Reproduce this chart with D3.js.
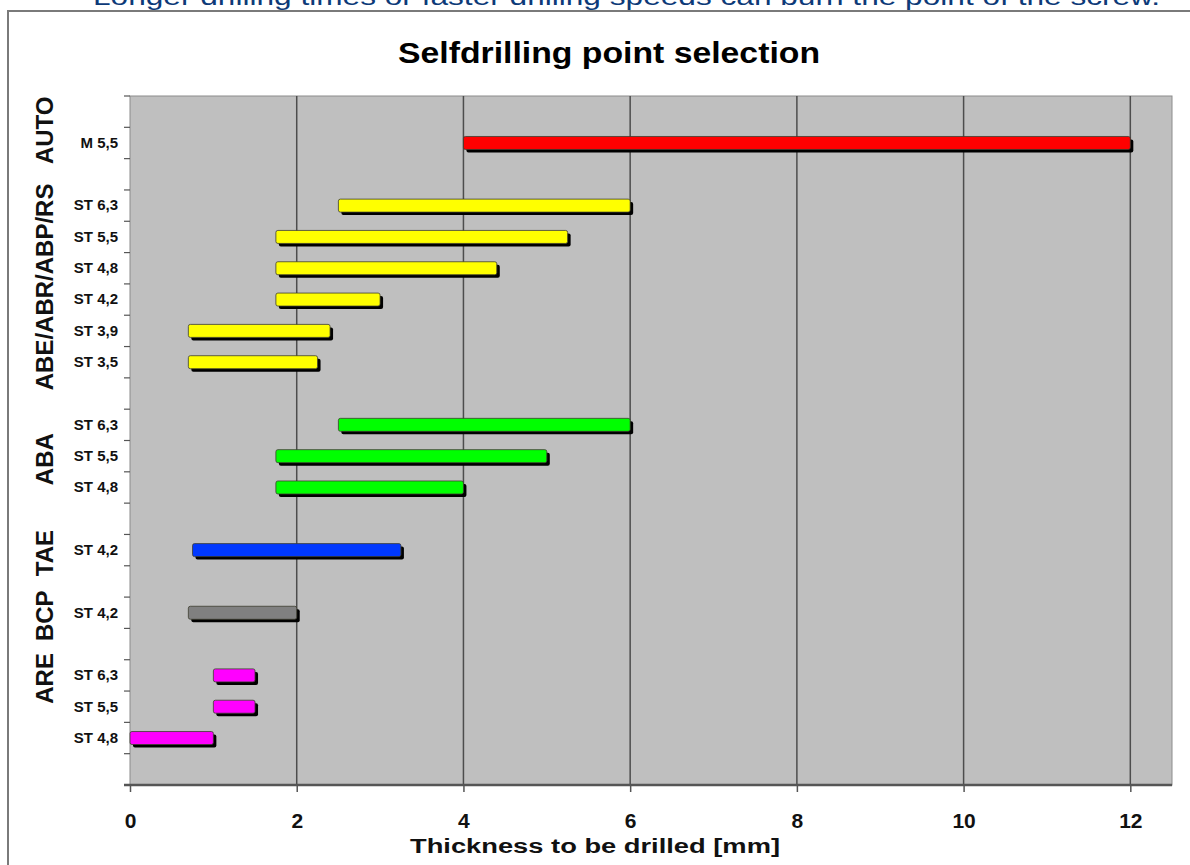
<!DOCTYPE html>
<html lang="en">
<head>
<meta charset="utf-8">
<title>Selfdrilling point selection</title>
<style>
  body { margin: 0; background: #fff; }
  svg { display: block; font-family: "Liberation Sans", Arial, sans-serif; }
</style>
</head>
<body>
<script src="https://cdn.jsdelivr.net/npm/d3@7"></script>
<script>
// one row per slot of the y axis, empty strings are the gaps between groups
var rowLabels = ["", "M 5,5", "", "ST 6,3", "ST 5,5", "ST 4,8", "ST 4,2", "ST 3,9", "ST 3,5", "",
                 "ST 6,3", "ST 5,5", "ST 4,8", "", "ST 4,2", "", "ST 4,2", "", "ST 6,3", "ST 5,5", "ST 4,8", ""];
var rowGroup  = ["AUTO", "AUTO", "", "ABE", "ABE", "ABE", "ABE", "ABE", "ABE", "",
                 "ABA", "ABA", "ABA", "", "TAE", "", "BCP", "", "ARE", "ARE", "ARE", ""];
// drilling thickness range [mm]
var rangeFrom = [null, 4, null, 2.5, 1.75, 1.75, 1.75, 0.7, 0.7, null,
                 2.5, 1.75, 1.75, null, 0.75, null, 0.7, null, 1.0, 1.0, 0, null];
var rangeTo   = [null, 12, null, 6, 5.25, 4.4, 3, 2.4, 2.25, null,
                 6, 5, 4, null, 3.25, null, 2, null, 1.5, 1.5, 1, null];

var groupKeys   = ["AUTO", "ABE", "ABA", "TAE", "BCP", "ARE"];
var groupTitles = ["AUTO", "ABE/ABR/ABP/RS", "ABA", "TAE", "BCP", "ARE"];
var groupRows   = [[0, 1], [3, 8], [10, 12], [14, 14], [16, 16], [17, 19]];

var xTicks = [0, 2, 4, 6, 8, 10, 12];

var chartTitle = "Selfdrilling point selection";
var xTitle = "Thickness to be drilled [mm]";
var note = "Longer drilling times or faster drilling speeds can burn the point of the screw.";

var W = 1190, H = 865;
var plot = {left: 130, right: 1172, top: 96, bottom: 785};

var color = d3.scaleOrdinal()
    .domain(groupKeys)
    .range(["#ff0000", "#ffff00", "#00ff00", "#0038ff", "#808080", "#ff00ff"]);

var x = d3.scaleLinear().domain([0, 12.5]).range([plot.left, plot.right]);
var y = d3.scaleBand().domain(d3.range(rowLabels.length)).range([plot.top, plot.bottom]);

var svg = d3.select("body").append("svg")
    .attr("width", W)
    .attr("height", H);

// text above the frame, cut at the top of the picture
svg.append("text")
    .attr("x", 93).attr("y", 5)
    .attr("font-family", "'Liberation Sans', Arial, sans-serif")
    .attr("font-size", 24)
    .attr("fill", "#0d3a78")
    .attr("textLength", 1067)
    .attr("lengthAdjust", "spacingAndGlyphs")
    .text(note);

svg.append("rect")
    .attr("x", 8).attr("y", 11)
    .attr("width", 1220).attr("height", 900)
    .attr("fill", "#fff")
    .attr("stroke", "#7a7a7a")
    .attr("stroke-width", 2);

svg.append("text")
    .attr("x", 609).attr("y", 63)
    .attr("text-anchor", "middle")
    .attr("font-size", 30)
    .attr("font-weight", "bold")
    .attr("textLength", 422)
    .attr("lengthAdjust", "spacingAndGlyphs")
    .text(chartTitle);

// plot area
svg.append("rect")
    .attr("x", plot.left).attr("y", plot.top)
    .attr("width", plot.right - plot.left).attr("height", plot.bottom - plot.top)
    .attr("fill", "#bfbfbf")
    .attr("stroke", "#8c8c8c")
    .attr("stroke-width", 1);

svg.append("g").selectAll("line")
    .data(xTicks.filter(function(d){ return d > 0; }))
    .enter().append("line")
    .attr("x1", function(d){ return x(d); })
    .attr("x2", function(d){ return x(d); })
    .attr("y1", plot.top).attr("y2", plot.bottom)
    .attr("stroke", "#4d4d4d")
    .attr("stroke-width", 1.5);

// y tick marks on the slot boundaries
var bounds = y.domain().map(function(i){ return y(i); }).concat([plot.bottom]);
svg.append("g").selectAll("line")
    .data(bounds)
    .enter().append("line")
    .attr("x1", plot.left - 6).attr("x2", plot.left)
    .attr("y1", function(d){ return d; }).attr("y2", function(d){ return d; })
    .attr("stroke", "#555")
    .attr("stroke-width", 1.2);

var yAxis = svg.append("g")
    .attr("transform", "translate(" + plot.left + ",0)")
    .call(d3.axisLeft(y).tickSize(0).tickPadding(12).tickFormat(function(i){ return rowLabels[i]; }));
yAxis.select(".domain").remove();
yAxis.selectAll("text")
    .attr("font-family", "'Liberation Sans', Arial, sans-serif")
    .attr("font-size", 15)
    .attr("font-weight", "bold")
    .attr("fill", "#111");

// bars with their drop shadow
var rows = d3.range(rowLabels.length).filter(function(i){ return rangeFrom[i] !== null; });
var barH = 13;
var bars = svg.append("g");
bars.selectAll("rect.shadow")
    .data(rows)
    .enter().append("rect")
    .attr("class", "shadow")
    .attr("x", function(i){ return x(rangeFrom[i]) + 3; })
    .attr("y", function(i){ return y(i) + (y.bandwidth() - barH) / 2 + 3; })
    .attr("width", function(i){ return x(rangeTo[i]) - x(rangeFrom[i]); })
    .attr("height", barH)
    .attr("rx", 2)
    .attr("fill", "#000");
bars.selectAll("rect.bar")
    .data(rows)
    .enter().append("rect")
    .attr("class", "bar")
    .attr("x", function(i){ return x(rangeFrom[i]); })
    .attr("y", function(i){ return y(i) + (y.bandwidth() - barH) / 2; })
    .attr("width", function(i){ return x(rangeTo[i]) - x(rangeFrom[i]); })
    .attr("height", barH)
    .attr("rx", 2)
    .attr("fill", function(i){ return color(rowGroup[i]); })
    .attr("stroke", "#3d3d30")
    .attr("stroke-width", 0.8);

// x axis
var xAxis = svg.append("g")
    .attr("transform", "translate(0," + plot.bottom + ")")
    .call(d3.axisBottom(x).tickValues(xTicks).tickSize(7).tickPadding(21).tickFormat(d3.format("d")));
xAxis.select(".domain")
    .attr("d", "M" + (plot.left - 6) + ",0H" + plot.right)
    .attr("stroke", "#555")
    .attr("stroke-width", 2.5);
xAxis.selectAll(".tick line").attr("stroke", "#555").attr("stroke-width", 1.5);
xAxis.selectAll("text")
    .attr("font-family", "'Liberation Sans', Arial, sans-serif")
    .attr("font-size", 21)
    .attr("font-weight", "bold")
    .attr("fill", "#111");

svg.append("text")
    .attr("x", 595).attr("y", 853)
    .attr("text-anchor", "middle")
    .attr("font-size", 20)
    .attr("font-weight", "bold")
    .attr("fill", "#111")
    .attr("textLength", 370)
    .attr("lengthAdjust", "spacingAndGlyphs")
    .text(xTitle);

// group names, rotated
svg.append("g").selectAll("text")
    .data(groupTitles)
    .enter().append("text")
    .attr("transform", function(d, k){
        var r = groupRows[k];
        var cy = (y(r[0]) + y(r[1]) + y.bandwidth()) / 2 + 3;
        return "translate(53," + cy + ") rotate(-90)";
    })
    .attr("text-anchor", "middle")
    .attr("font-size", 24)
    .attr("font-weight", "bold")
    .attr("fill", "#111")
    .text(function(d){ return d; });
</script>
</body>
</html>
